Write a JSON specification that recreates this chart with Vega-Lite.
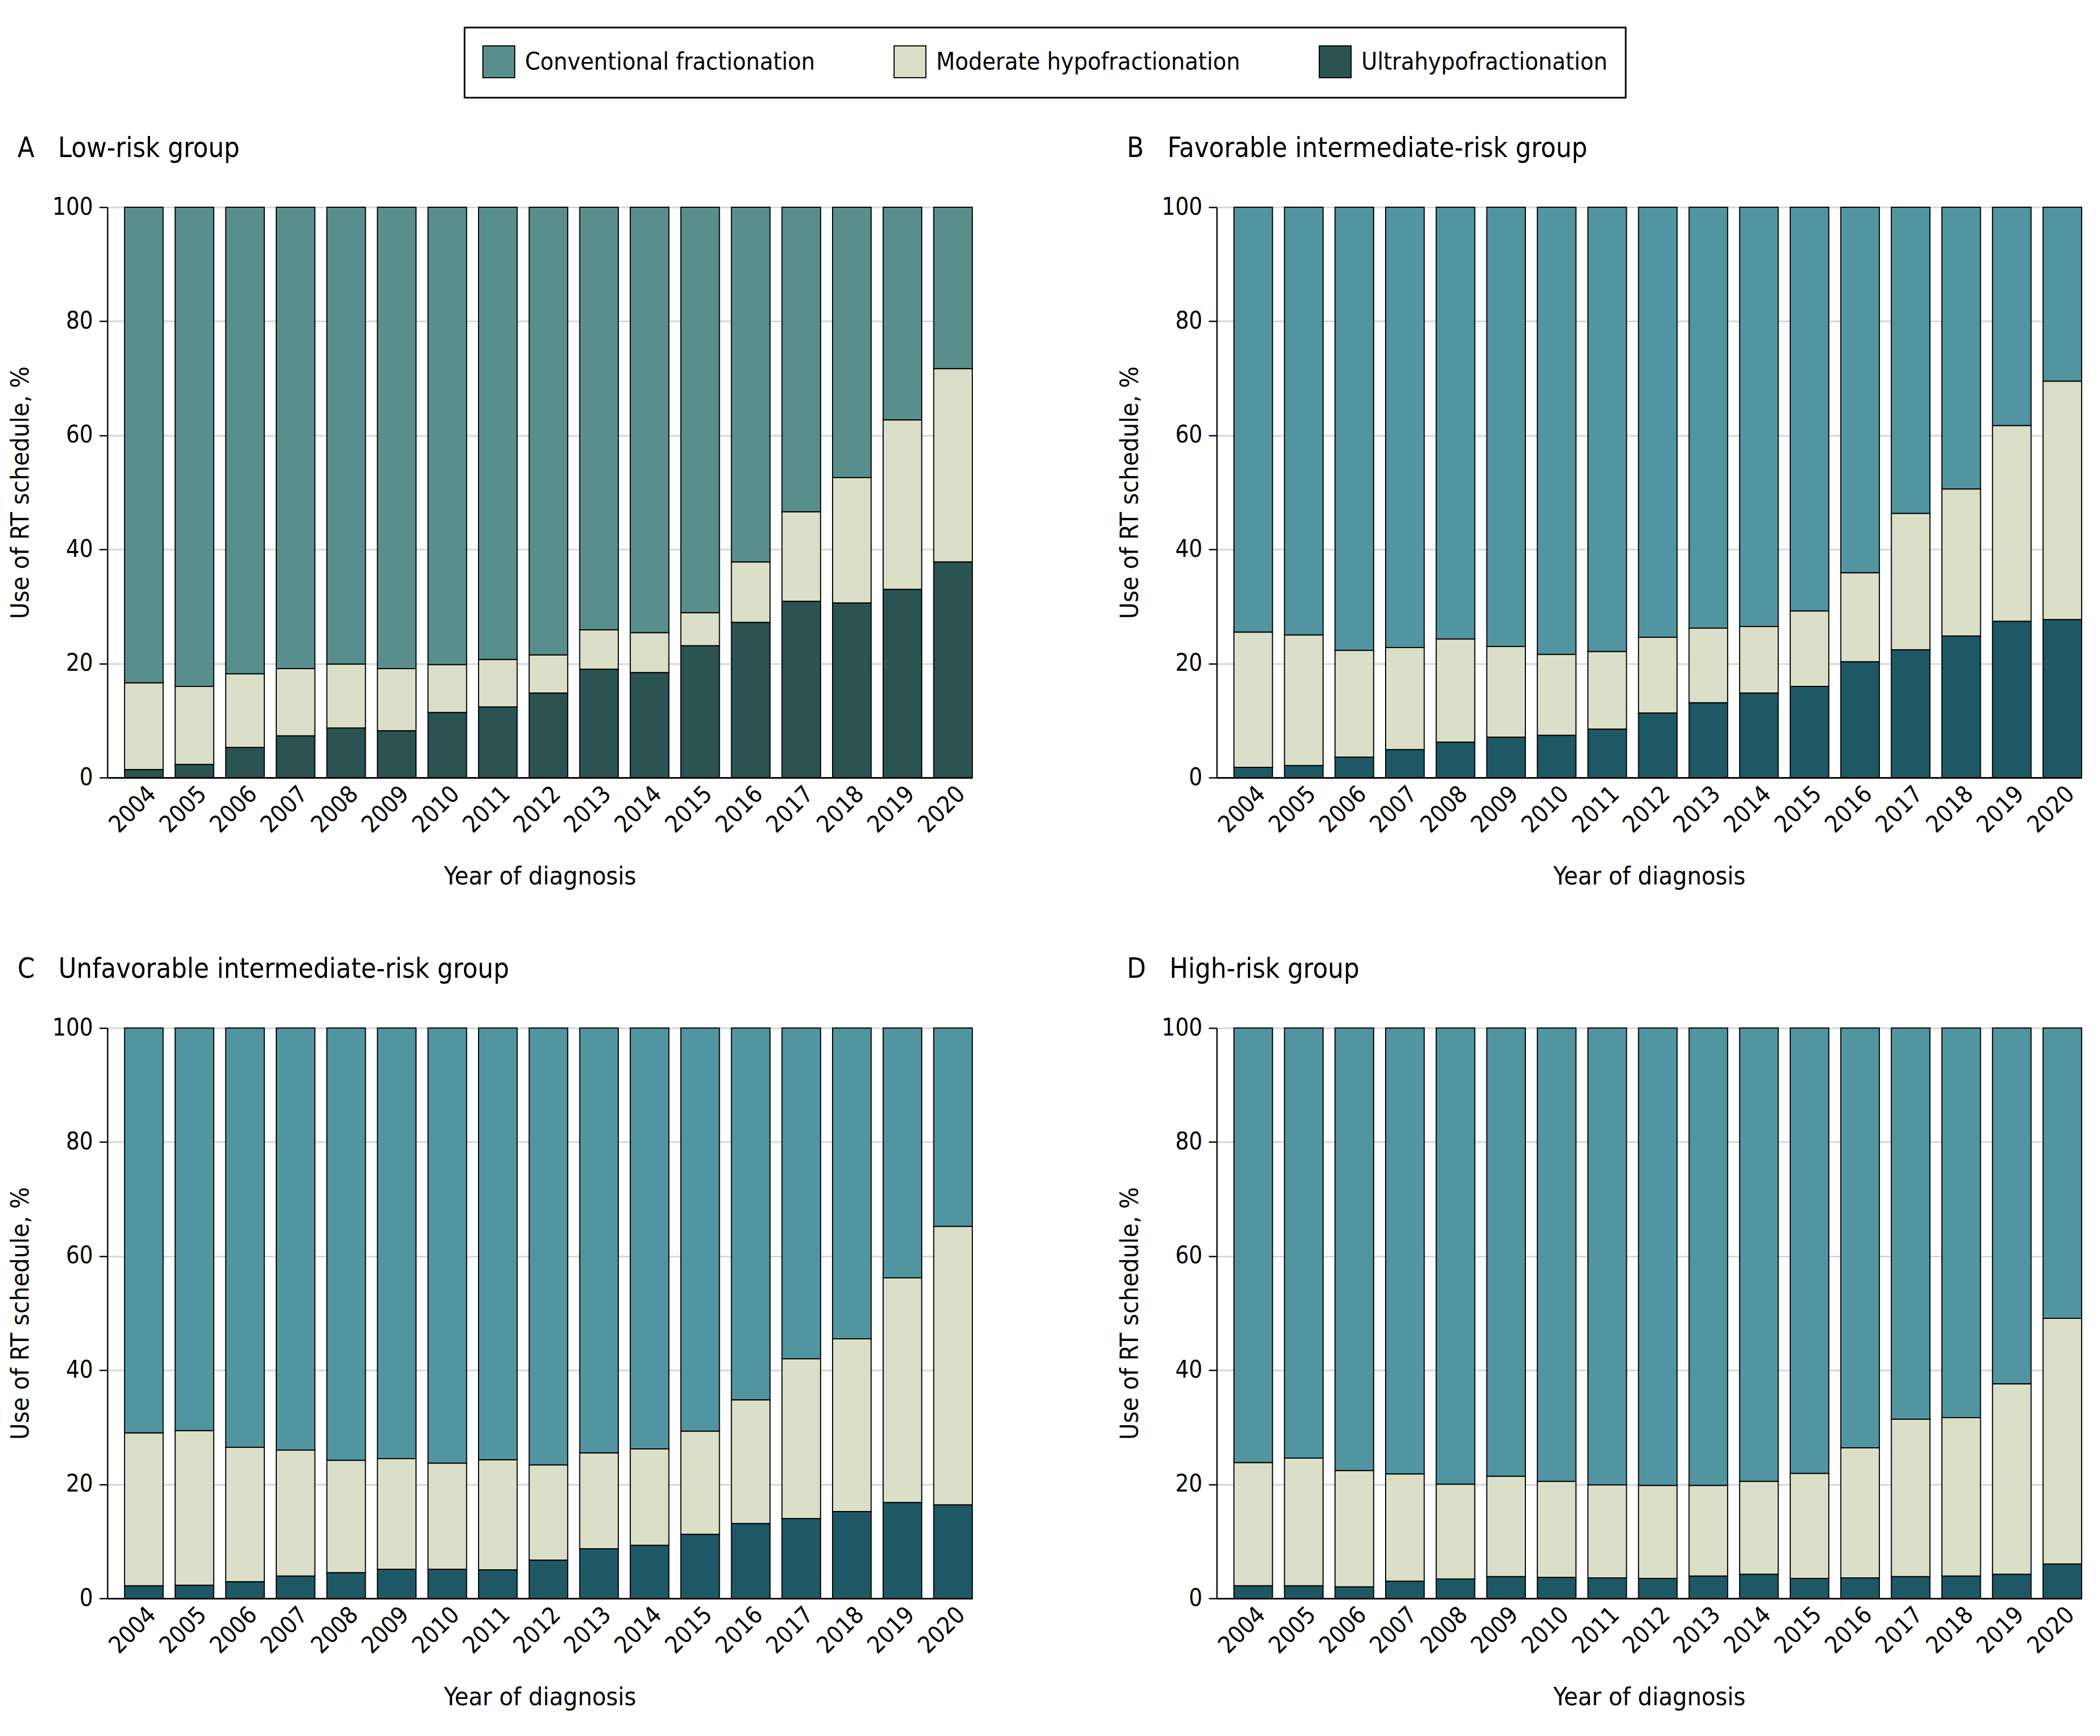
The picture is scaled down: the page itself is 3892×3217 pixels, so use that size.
{
  "$schema": "https://vega.github.io/schema/vega-lite/v6.json",
  "background": "white",
  "padding": {"left": 14, "top": 49, "right": 14, "bottom": 30},
  "datasets": {
    "A": [
      {"year": 2004, "Ultrahypofractionation": 1.4, "Moderate hypofractionation": 15.2, "Conventional fractionation": 83.4},
      {"year": 2005, "Ultrahypofractionation": 2.3, "Moderate hypofractionation": 13.7, "Conventional fractionation": 84.0},
      {"year": 2006, "Ultrahypofractionation": 5.3, "Moderate hypofractionation": 12.9, "Conventional fractionation": 81.8},
      {"year": 2007, "Ultrahypofractionation": 7.3, "Moderate hypofractionation": 11.8, "Conventional fractionation": 80.9},
      {"year": 2008, "Ultrahypofractionation": 8.7, "Moderate hypofractionation": 11.2, "Conventional fractionation": 80.1},
      {"year": 2009, "Ultrahypofractionation": 8.2, "Moderate hypofractionation": 10.9, "Conventional fractionation": 80.9},
      {"year": 2010, "Ultrahypofractionation": 11.4, "Moderate hypofractionation": 8.4, "Conventional fractionation": 80.2},
      {"year": 2011, "Ultrahypofractionation": 12.4, "Moderate hypofractionation": 8.3, "Conventional fractionation": 79.3},
      {"year": 2012, "Ultrahypofractionation": 14.8, "Moderate hypofractionation": 6.7, "Conventional fractionation": 78.5},
      {"year": 2013, "Ultrahypofractionation": 19.0, "Moderate hypofractionation": 6.9, "Conventional fractionation": 74.1},
      {"year": 2014, "Ultrahypofractionation": 18.4, "Moderate hypofractionation": 7.0, "Conventional fractionation": 74.6},
      {"year": 2015, "Ultrahypofractionation": 23.1, "Moderate hypofractionation": 5.8, "Conventional fractionation": 71.1},
      {"year": 2016, "Ultrahypofractionation": 27.2, "Moderate hypofractionation": 10.6, "Conventional fractionation": 62.2},
      {"year": 2017, "Ultrahypofractionation": 30.9, "Moderate hypofractionation": 15.7, "Conventional fractionation": 53.4},
      {"year": 2018, "Ultrahypofractionation": 30.6, "Moderate hypofractionation": 22.0, "Conventional fractionation": 47.4},
      {"year": 2019, "Ultrahypofractionation": 33.0, "Moderate hypofractionation": 29.7, "Conventional fractionation": 37.3},
      {"year": 2020, "Ultrahypofractionation": 37.8, "Moderate hypofractionation": 33.9, "Conventional fractionation": 28.3}
    ],
    "B": [
      {"year": 2004, "Ultrahypofractionation": 1.8, "Moderate hypofractionation": 23.7, "Conventional fractionation": 74.5},
      {"year": 2005, "Ultrahypofractionation": 2.1, "Moderate hypofractionation": 22.9, "Conventional fractionation": 75.0},
      {"year": 2006, "Ultrahypofractionation": 3.6, "Moderate hypofractionation": 18.7, "Conventional fractionation": 77.7},
      {"year": 2007, "Ultrahypofractionation": 4.9, "Moderate hypofractionation": 17.9, "Conventional fractionation": 77.2},
      {"year": 2008, "Ultrahypofractionation": 6.2, "Moderate hypofractionation": 18.1, "Conventional fractionation": 75.7},
      {"year": 2009, "Ultrahypofractionation": 7.1, "Moderate hypofractionation": 15.9, "Conventional fractionation": 77.0},
      {"year": 2010, "Ultrahypofractionation": 7.4, "Moderate hypofractionation": 14.2, "Conventional fractionation": 78.4},
      {"year": 2011, "Ultrahypofractionation": 8.5, "Moderate hypofractionation": 13.6, "Conventional fractionation": 77.9},
      {"year": 2012, "Ultrahypofractionation": 11.3, "Moderate hypofractionation": 13.3, "Conventional fractionation": 75.4},
      {"year": 2013, "Ultrahypofractionation": 13.1, "Moderate hypofractionation": 13.1, "Conventional fractionation": 73.8},
      {"year": 2014, "Ultrahypofractionation": 14.8, "Moderate hypofractionation": 11.7, "Conventional fractionation": 73.5},
      {"year": 2015, "Ultrahypofractionation": 16.0, "Moderate hypofractionation": 13.2, "Conventional fractionation": 70.8},
      {"year": 2016, "Ultrahypofractionation": 20.3, "Moderate hypofractionation": 15.6, "Conventional fractionation": 64.1},
      {"year": 2017, "Ultrahypofractionation": 22.4, "Moderate hypofractionation": 23.9, "Conventional fractionation": 53.7},
      {"year": 2018, "Ultrahypofractionation": 24.8, "Moderate hypofractionation": 25.8, "Conventional fractionation": 49.4},
      {"year": 2019, "Ultrahypofractionation": 27.4, "Moderate hypofractionation": 34.3, "Conventional fractionation": 38.3},
      {"year": 2020, "Ultrahypofractionation": 27.7, "Moderate hypofractionation": 41.8, "Conventional fractionation": 30.5}
    ],
    "C": [
      {"year": 2004, "Ultrahypofractionation": 2.2, "Moderate hypofractionation": 26.8, "Conventional fractionation": 71.0},
      {"year": 2005, "Ultrahypofractionation": 2.3, "Moderate hypofractionation": 27.1, "Conventional fractionation": 70.6},
      {"year": 2006, "Ultrahypofractionation": 2.9, "Moderate hypofractionation": 23.6, "Conventional fractionation": 73.5},
      {"year": 2007, "Ultrahypofractionation": 3.9, "Moderate hypofractionation": 22.1, "Conventional fractionation": 74.0},
      {"year": 2008, "Ultrahypofractionation": 4.5, "Moderate hypofractionation": 19.7, "Conventional fractionation": 75.8},
      {"year": 2009, "Ultrahypofractionation": 5.1, "Moderate hypofractionation": 19.4, "Conventional fractionation": 75.5},
      {"year": 2010, "Ultrahypofractionation": 5.1, "Moderate hypofractionation": 18.6, "Conventional fractionation": 76.3},
      {"year": 2011, "Ultrahypofractionation": 5.0, "Moderate hypofractionation": 19.3, "Conventional fractionation": 75.7},
      {"year": 2012, "Ultrahypofractionation": 6.7, "Moderate hypofractionation": 16.7, "Conventional fractionation": 76.6},
      {"year": 2013, "Ultrahypofractionation": 8.7, "Moderate hypofractionation": 16.8, "Conventional fractionation": 74.5},
      {"year": 2014, "Ultrahypofractionation": 9.3, "Moderate hypofractionation": 16.9, "Conventional fractionation": 73.8},
      {"year": 2015, "Ultrahypofractionation": 11.2, "Moderate hypofractionation": 18.1, "Conventional fractionation": 70.7},
      {"year": 2016, "Ultrahypofractionation": 13.1, "Moderate hypofractionation": 21.7, "Conventional fractionation": 65.2},
      {"year": 2017, "Ultrahypofractionation": 14.0, "Moderate hypofractionation": 28.0, "Conventional fractionation": 58.0},
      {"year": 2018, "Ultrahypofractionation": 15.2, "Moderate hypofractionation": 30.3, "Conventional fractionation": 54.5},
      {"year": 2019, "Ultrahypofractionation": 16.8, "Moderate hypofractionation": 39.4, "Conventional fractionation": 43.8},
      {"year": 2020, "Ultrahypofractionation": 16.4, "Moderate hypofractionation": 48.8, "Conventional fractionation": 34.8}
    ],
    "D": [
      {"year": 2004, "Ultrahypofractionation": 2.2, "Moderate hypofractionation": 21.6, "Conventional fractionation": 76.2},
      {"year": 2005, "Ultrahypofractionation": 2.2, "Moderate hypofractionation": 22.4, "Conventional fractionation": 75.4},
      {"year": 2006, "Ultrahypofractionation": 2.0, "Moderate hypofractionation": 20.4, "Conventional fractionation": 77.6},
      {"year": 2007, "Ultrahypofractionation": 3.0, "Moderate hypofractionation": 18.8, "Conventional fractionation": 78.2},
      {"year": 2008, "Ultrahypofractionation": 3.4, "Moderate hypofractionation": 16.6, "Conventional fractionation": 80.0},
      {"year": 2009, "Ultrahypofractionation": 3.8, "Moderate hypofractionation": 17.6, "Conventional fractionation": 78.6},
      {"year": 2010, "Ultrahypofractionation": 3.7, "Moderate hypofractionation": 16.8, "Conventional fractionation": 79.5},
      {"year": 2011, "Ultrahypofractionation": 3.6, "Moderate hypofractionation": 16.3, "Conventional fractionation": 80.1},
      {"year": 2012, "Ultrahypofractionation": 3.5, "Moderate hypofractionation": 16.3, "Conventional fractionation": 80.2},
      {"year": 2013, "Ultrahypofractionation": 3.9, "Moderate hypofractionation": 15.9, "Conventional fractionation": 80.2},
      {"year": 2014, "Ultrahypofractionation": 4.2, "Moderate hypofractionation": 16.3, "Conventional fractionation": 79.5},
      {"year": 2015, "Ultrahypofractionation": 3.5, "Moderate hypofractionation": 18.4, "Conventional fractionation": 78.1},
      {"year": 2016, "Ultrahypofractionation": 3.6, "Moderate hypofractionation": 22.8, "Conventional fractionation": 73.6},
      {"year": 2017, "Ultrahypofractionation": 3.8, "Moderate hypofractionation": 27.6, "Conventional fractionation": 68.6},
      {"year": 2018, "Ultrahypofractionation": 3.9, "Moderate hypofractionation": 27.8, "Conventional fractionation": 68.3},
      {"year": 2019, "Ultrahypofractionation": 4.2, "Moderate hypofractionation": 33.4, "Conventional fractionation": 62.4},
      {"year": 2020, "Ultrahypofractionation": 6.0, "Moderate hypofractionation": 43.1, "Conventional fractionation": 50.9}
    ]
  },
  "config": {
    "font": "DejaVu Sans Condensed, Liberation Sans Narrow, sans-serif",
    "view": {"stroke": null},
    "title": {"fontSize": 51, "fontWeight": "normal", "anchor": "start", "frame": "bounds", "color": "black", "offset": 60},
    "axis": {"labelFontSize": 44, "titleFontSize": 47, "labelColor": "black", "titleColor": "black", "titleFontWeight": "normal"},
    "axisX": {"labelAngle": -45, "ticks": false, "domainColor": "black", "domainWidth": 3, "grid": false, "labelPadding": 8, "titlePadding": 50},
    "axisY": {"domainColor": "black", "domainWidth": 2.5, "tickColor": "black", "tickWidth": 2.5, "tickSize": 15, "gridColor": "#d6d6d6", "gridWidth": 3, "labelPadding": 12, "titlePadding": 34},
    "legend": {"strokeWidth": 3}
  },
  "spacing": 123,
  "vconcat": [
    {
      "spacing": 267,
      "hconcat": [
        {
          "width": 1603, "height": 1057,
          "title": {"text": "A\u00a0\u00a0\u00a0Low-risk group", "dx": 18},
          "data": {"name": "A"},
          "transform": [{"fold": ["Conventional fractionation", "Moderate hypofractionation", "Ultrahypofractionation"], "as": ["schedule", "pct"]}],
          "mark": {"type": "bar", "stroke": "black", "strokeWidth": 2},
          "encoding": {
            "x": {"field": "year", "type": "ordinal", "title": "Year of diagnosis", "scale": {"paddingInner": 0.237, "paddingOuter": 0.17, "align": 1}},
            "y": {"field": "pct", "type": "quantitative", "stack": "zero", "scale": {"domain": [0, 100], "nice": false}, "title": "Use of RT schedule, %", "axis": {"values": [0, 20, 40, 60, 80, 100]}},
            "color": {
              "field": "schedule", "type": "nominal",
              "scale": {"domain": ["Conventional fractionation", "Moderate hypofractionation", "Ultrahypofractionation"], "range": ["#588f8c", "#dbdfc7", "#2b5352"]},
              "legend": {"orient": "none", "legendX": 662, "legendY": -333, "direction": "horizontal", "columns": 3, "title": null, "symbolType": "square", "symbolSize": 3480, "symbolStrokeColor": "black", "symbolStrokeWidth": 2, "symbolOpacity": 1, "labelFontSize": 45, "labelColor": "black", "labelOffset": 18, "columnPadding": 142, "padding": 33, "strokeColor": "black", "fillColor": "white", "labelLimit": 1000}
            },
            "order": {"field": "schedule", "sort": "descending"}
          }
        },
        {
          "width": 1603, "height": 1057,
          "title": {"text": "B\u00a0\u00a0\u00a0Favorable intermediate-risk group", "dx": 18},
          "data": {"name": "B"},
          "transform": [{"fold": ["Conventional fractionation", "Moderate hypofractionation", "Ultrahypofractionation"], "as": ["schedule", "pct"]}],
          "mark": {"type": "bar", "stroke": "black", "strokeWidth": 2},
          "encoding": {
            "x": {"field": "year", "type": "ordinal", "title": "Year of diagnosis", "scale": {"paddingInner": 0.237, "paddingOuter": 0.17, "align": 1}},
            "y": {"field": "pct", "type": "quantitative", "stack": "zero", "scale": {"domain": [0, 100], "nice": false}, "title": "Use of RT schedule, %", "axis": {"values": [0, 20, 40, 60, 80, 100]}},
            "fill": {
              "field": "schedule", "type": "nominal",
              "scale": {"domain": ["Conventional fractionation", "Moderate hypofractionation", "Ultrahypofractionation"], "range": ["#5195a0", "#dbdfc7", "#1f5865"]},
              "legend": null
            },
            "order": {"field": "schedule", "sort": "descending"}
          }
        }
      ]
    },
    {
      "spacing": 267,
      "hconcat": [
        {
          "width": 1603, "height": 1057,
          "title": {"text": "C\u00a0\u00a0\u00a0Unfavorable intermediate-risk group", "dx": 18},
          "data": {"name": "C"},
          "transform": [{"fold": ["Conventional fractionation", "Moderate hypofractionation", "Ultrahypofractionation"], "as": ["schedule", "pct"]}],
          "mark": {"type": "bar", "stroke": "black", "strokeWidth": 2},
          "encoding": {
            "x": {"field": "year", "type": "ordinal", "title": "Year of diagnosis", "scale": {"paddingInner": 0.237, "paddingOuter": 0.17, "align": 1}},
            "y": {"field": "pct", "type": "quantitative", "stack": "zero", "scale": {"domain": [0, 100], "nice": false}, "title": "Use of RT schedule, %", "axis": {"values": [0, 20, 40, 60, 80, 100]}},
            "fill": {
              "field": "schedule", "type": "nominal",
              "scale": {"domain": ["Conventional fractionation", "Moderate hypofractionation", "Ultrahypofractionation"], "range": ["#5195a0", "#dbdfc7", "#1f5865"]},
              "legend": null
            },
            "order": {"field": "schedule", "sort": "descending"}
          }
        },
        {
          "width": 1603, "height": 1057,
          "title": {"text": "D\u00a0\u00a0\u00a0High-risk group", "dx": 18},
          "data": {"name": "D"},
          "transform": [{"fold": ["Conventional fractionation", "Moderate hypofractionation", "Ultrahypofractionation"], "as": ["schedule", "pct"]}],
          "mark": {"type": "bar", "stroke": "black", "strokeWidth": 2},
          "encoding": {
            "x": {"field": "year", "type": "ordinal", "title": "Year of diagnosis", "scale": {"paddingInner": 0.237, "paddingOuter": 0.17, "align": 1}},
            "y": {"field": "pct", "type": "quantitative", "stack": "zero", "scale": {"domain": [0, 100], "nice": false}, "title": "Use of RT schedule, %", "axis": {"values": [0, 20, 40, 60, 80, 100]}},
            "fill": {
              "field": "schedule", "type": "nominal",
              "scale": {"domain": ["Conventional fractionation", "Moderate hypofractionation", "Ultrahypofractionation"], "range": ["#5195a0", "#dbdfc7", "#1f5865"]},
              "legend": null
            },
            "order": {"field": "schedule", "sort": "descending"}
          }
        }
      ]
    }
  ]
}
